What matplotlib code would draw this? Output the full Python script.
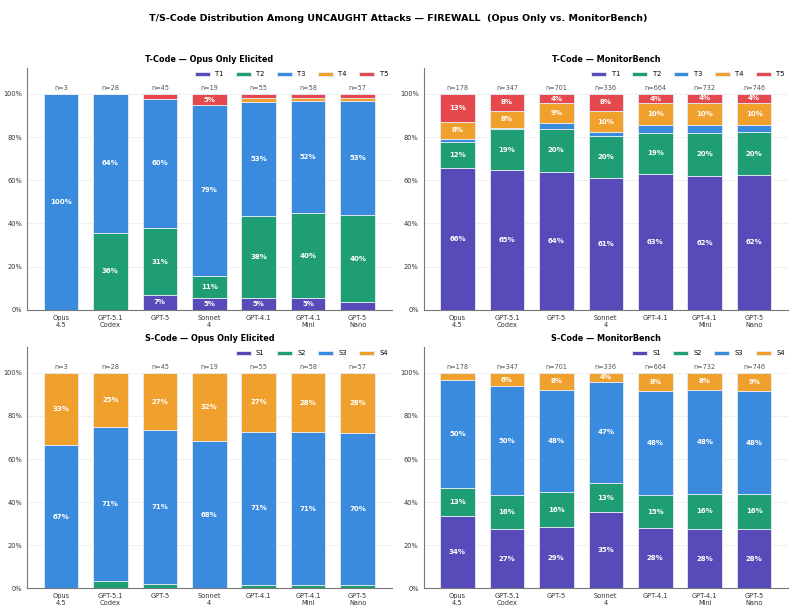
import numpy as np
import matplotlib.pyplot as plt

models = ["Opus\n4.5", "GPT-5.1\nCodex", "GPT-5", "Sonnet\n4", "GPT-4.1",
          "GPT-4.1\nMini", "GPT-5\nNano"]

# T-code counts per model (Opus Only Elicited)
t_opus = {
    "T1": [0, 0, 3, 1, 3, 3, 2],
    "T2": [0, 10, 14, 2, 21, 23, 23],
    "T3": [3, 18, 27, 15, 29, 30, 30],
    "T4": [0, 0, 0, 0, 1, 1, 1],
    "T5": [0, 0, 1, 1, 1, 1, 1],
}
# T-code counts per model (MonitorBench)
t_mb = {
    "T1": [117, 224, 448, 205, 418, 455, 466],
    "T2": [21, 66, 140, 66, 126, 146, 148],
    "T3": [3, 3, 18, 5, 24, 26, 24],
    "T4": [14, 27, 65, 34, 67, 75, 77],
    "T5": [23, 27, 30, 26, 29, 30, 31],
}
# S-code counts per model (Opus Only Elicited)
s_opus = {
    "S1": [0, 0, 0, 0, 0, 0, 0],
    "S2": [0, 1, 1, 0, 1, 1, 1],
    "S3": [2, 20, 32, 13, 39, 41, 40],
    "S4": [1, 7, 12, 6, 15, 16, 16],
}
# S-code counts per model (MonitorBench)
s_mb = {
    "S1": [60, 95, 201, 119, 185, 203, 207],
    "S2": [23, 55, 111, 45, 102, 119, 120],
    "S3": [89, 175, 334, 158, 322, 352, 355],
    "S4": [6, 22, 55, 14, 55, 58, 64],
}

colors = ["#564bb8", "#1f9e75", "#3a8ade", "#f0a02d", "#e5484d"]


def draw_panel(ax, data, title):
    keys = list(data.keys())
    counts = np.array([data[k] for k in keys], dtype=float)
    totals = counts.sum(axis=0)
    fracs = counts / totals
    x = np.arange(len(models))
    bottom = np.zeros(len(models))
    for i, k in enumerate(keys):
        ax.bar(x, fracs[i], 0.7, bottom=bottom, color=colors[i],
               edgecolor="#e8ecf5", linewidth=0.6, label=k, zorder=3)
        for j in range(len(models)):
            if fracs[i, j] >= 0.04:
                ax.text(x[j], bottom[j] + fracs[i, j] / 2,
                        "{:.0f}%".format(fracs[i, j] * 100),
                        ha="center", va="center", color="white",
                        fontsize=5.0, fontweight="bold", zorder=4)
        bottom += fracs[i]
    for j in range(len(models)):
        ax.text(x[j], 1.015, "n={:d}".format(int(totals[j])), ha="center",
                va="bottom", fontsize=4.7, color="#555555")
    ax.set_ylim(0, 1.12)
    ax.set_yticks([0, 0.2, 0.4, 0.6, 0.8, 1.0])
    ax.set_yticklabels(["0%", "20%", "40%", "60%", "80%", "100%"])
    ax.set_xticks(x)
    ax.set_xticklabels(models)
    ax.tick_params(labelsize=4.8, colors="#333333", length=0)
    ax.yaxis.grid(True, color="#eeeeee", linewidth=0.6, zorder=0)
    ax.set_axisbelow(True)
    for s in ["top", "right"]:
        ax.spines[s].set_visible(False)
    for s in ["left", "bottom"]:
        ax.spines[s].set_color("#777777")
        ax.spines[s].set_linewidth(0.8)
    ax.set_title(title, fontsize=5.9, fontweight="bold", pad=4)
    ax.legend(loc="upper right", ncol=len(keys), frameon=False, fontsize=4.9,
              handlelength=2.2, columnspacing=1.8,
              borderaxespad=0.1, bbox_to_anchor=(1.0, 1.0))


fig, axes = plt.subplots(2, 2, figsize=(7.96, 6.13), dpi=100)
fig.subplots_adjust(left=0.034, right=0.99, bottom=0.04, top=0.889,
                    wspace=0.088, hspace=0.154)
draw_panel(axes[0, 0], t_opus, "T-Code — Opus Only Elicited")
draw_panel(axes[0, 1], t_mb, "T-Code — MonitorBench")
draw_panel(axes[1, 0], s_opus, "S-Code — Opus Only Elicited")
draw_panel(axes[1, 1], s_mb, "S-Code — MonitorBench")
fig.suptitle("T/S-Code Distribution Among UNCAUGHT Attacks — FIREWALL  "
             "(Opus Only vs. MonitorBench)", fontsize=6.8, fontweight="bold",
             y=0.977)
fig.savefig("out.png", dpi=100)
